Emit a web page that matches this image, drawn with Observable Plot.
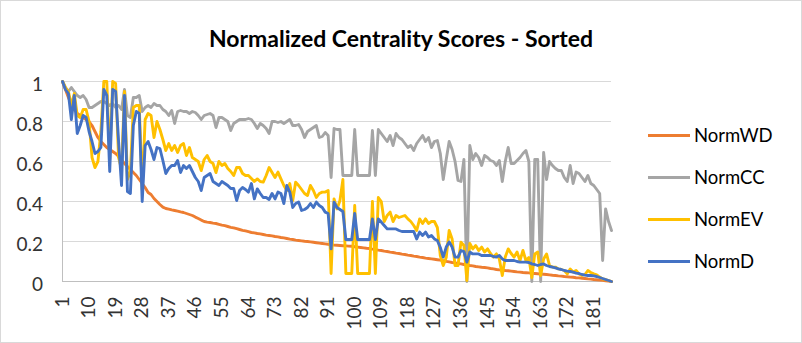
<!DOCTYPE html>
<html><head><meta charset="utf-8">
<script src="https://cdn.jsdelivr.net/npm/d3@7"></script>
<script src="https://cdn.jsdelivr.net/npm/@observablehq/plot@0.6"></script>
<style>
body{margin:0;background:#fff;}
#chart{position:relative;width:802px;height:343px;background:#fff;font-family:Lato,"Open Sans",sans-serif;overflow:hidden;}
#border{position:absolute;left:0;top:0;width:802px;height:343px;box-sizing:border-box;border:1px solid #d9d9d9;pointer-events:none;}
#title{position:absolute;left:0;width:802px;top:25px;text-align:center;font-weight:bold;font-size:23px;line-height:26px;color:#000;}
#legend{position:absolute;left:648px;top:0;}
.item{position:absolute;left:0;height:24px;display:flex;align-items:center;white-space:nowrap;font-size:18.5px;color:#000;}
.sw{width:42px;height:3px;margin-right:4px;}
#chart svg{position:absolute;left:0;top:0;}
</style></head><body>
<div id="chart"><div id="title">Normalized Centrality Scores - Sorted</div><div id="legend"></div><div id="border"></div></div>
<script>
const categories = d3.range(1, 188);
const xTicks = [1, 10, 19, 28, 37, 46, 55, 64, 73, 82, 91, 100, 109, 118, 127, 136, 145, 154, 163, 172, 181];
const yTicks = [0, 0.2, 0.4, 0.6, 0.8, 1];
const seriesNames = ["NormWD", "NormCC", "NormEV", "NormD"];
const seriesColors = ["#ED7D31", "#A5A5A5", "#FFC000", "#4472C4"];

const normWD = [
  1.00, 0.96, 0.92, 0.89, 0.86, 0.84, 0.83, 0.82, 0.81, 0.80,
  0.78, 0.75, 0.72, 0.70, 0.685, 0.67, 0.66, 0.65, 0.64, 0.625,
  0.61, 0.59, 0.575, 0.56, 0.545, 0.53, 0.51, 0.49, 0.47, 0.445,
  0.435, 0.415, 0.40, 0.385, 0.372, 0.365, 0.362, 0.358, 0.355, 0.352,
  0.348, 0.345, 0.34, 0.335, 0.33, 0.322, 0.315, 0.307, 0.30, 0.297,
  0.295, 0.292, 0.29, 0.286, 0.282, 0.279, 0.275, 0.271, 0.268, 0.264,
  0.26, 0.256, 0.253, 0.249, 0.245, 0.243, 0.24, 0.238, 0.235, 0.232,
  0.23, 0.228, 0.225, 0.223, 0.22, 0.218, 0.215, 0.212, 0.21, 0.207,
  0.205, 0.203, 0.201, 0.2, 0.198, 0.196, 0.194, 0.192, 0.19, 0.188,
  0.186, 0.184, 0.182, 0.181, 0.18, 0.179, 0.178, 0.177, 0.176, 0.174,
  0.172, 0.17, 0.168, 0.166, 0.165, 0.162, 0.16, 0.157, 0.155, 0.152,
  0.15, 0.147, 0.145, 0.142, 0.14, 0.137, 0.135, 0.132, 0.13, 0.127,
  0.125, 0.122, 0.12, 0.117, 0.115, 0.113, 0.111, 0.109, 0.107, 0.104,
  0.101, 0.098, 0.095, 0.093, 0.09, 0.088, 0.085, 0.083, 0.08, 0.078,
  0.075, 0.073, 0.071, 0.07, 0.068, 0.065, 0.063, 0.06, 0.058, 0.057,
  0.055, 0.054, 0.052, 0.05, 0.048, 0.047, 0.045, 0.044, 0.043, 0.041,
  0.04, 0.039, 0.037, 0.036, 0.035, 0.033, 0.031, 0.03, 0.028, 0.027,
  0.025, 0.024, 0.022, 0.021, 0.019, 0.018, 0.016, 0.015, 0.013, 0.012,
  0.01, 0.009, 0.007, 0.006, 0.004, 0.002, 0
];
const normCC = [
  1.0, 0.97, 0.95, 0.97, 0.95, 0.93, 0.92, 0.93, 0.91, 0.87,
  0.87, 0.88, 0.89, 0.90, 0.90, 0.89, 0.88, 0.89, 0.87, 0.88,
  0.86, 0.96, 0.83, 0.82, 0.92, 0.92, 0.93, 0.85, 0.87, 0.88,
  0.87, 0.89, 0.88, 0.88, 0.86, 0.85, 0.83, 0.855, 0.79, 0.85,
  0.855, 0.85, 0.85, 0.84, 0.85, 0.845, 0.83, 0.81, 0.83, 0.835,
  0.84, 0.83, 0.77, 0.82, 0.82, 0.81, 0.80, 0.755, 0.79, 0.80,
  0.81, 0.81, 0.81, 0.815, 0.81, 0.79, 0.765, 0.79, 0.78, 0.765,
  0.74, 0.80, 0.80, 0.795, 0.80, 0.79, 0.80, 0.81, 0.78, 0.78,
  0.785, 0.76, 0.72, 0.75, 0.76, 0.77, 0.78, 0.72, 0.725, 0.745,
  0.73, 0.52, 0.765, 0.76, 0.76, 0.53, 0.53, 0.53, 0.53, 0.76,
  0.53, 0.53, 0.53, 0.53, 0.53, 0.755, 0.53, 0.76, 0.74, 0.72,
  0.70, 0.73, 0.68, 0.74, 0.72, 0.71, 0.69, 0.67, 0.68, 0.655,
  0.69, 0.71, 0.73, 0.70, 0.72, 0.67, 0.70, 0.705, 0.64, 0.51,
  0.61, 0.70, 0.66, 0.60, 0.505, 0.50, 0.61, 0.0, 0.68, 0.61,
  0.64, 0.62, 0.58, 0.63, 0.62, 0.605, 0.60, 0.58, 0.605, 0.50,
  0.60, 0.67, 0.59, 0.59, 0.605, 0.62, 0.64, 0.655, 0.60, 0.0,
  0.61, 0.61, 0.0, 0.645, 0.51, 0.60, 0.58, 0.565, 0.555, 0.555,
  0.52, 0.50, 0.58, 0.49, 0.547, 0.54, 0.52, 0.50, 0.53, 0.49,
  0.48, 0.46, 0.44, 0.105, 0.363, 0.30, 0.255
];
const normEV = [
  1.0, 0.97, 0.95, 0.88, 0.94, 0.83, 0.82, 0.86, 0.86, 0.80,
  0.62, 0.57, 0.60, 0.75, 1.0, 1.0, 0.61, 1.0, 0.99, 0.62,
  0.56, 0.95, 0.51, 0.55, 0.87, 0.88, 0.88, 0.46, 0.81, 0.84,
  0.83, 0.72, 0.80, 0.76, 0.71, 0.655, 0.69, 0.655, 0.68, 0.645,
  0.68, 0.69, 0.63, 0.67, 0.62, 0.61, 0.60, 0.555, 0.61, 0.63,
  0.60, 0.59, 0.545, 0.60, 0.58, 0.59, 0.565, 0.55, 0.53, 0.57,
  0.57, 0.54, 0.53, 0.53, 0.515, 0.50, 0.513, 0.50, 0.497, 0.53,
  0.57, 0.545, 0.52, 0.547, 0.513, 0.48, 0.455, 0.49, 0.405, 0.497,
  0.48, 0.46, 0.44, 0.43, 0.48, 0.455, 0.42, 0.44, 0.447, 0.447,
  0.455, 0.04, 0.413, 0.363, 0.405, 0.51, 0.04, 0.04, 0.04, 0.38,
  0.04, 0.04, 0.04, 0.04, 0.04, 0.40, 0.04, 0.42, 0.40, 0.30,
  0.33, 0.347, 0.30, 0.33, 0.32, 0.325, 0.33, 0.313, 0.30, 0.28,
  0.255, 0.313, 0.29, 0.313, 0.29, 0.30, 0.30, 0.27, 0.13, 0.08,
  0.12, 0.255, 0.213, 0.08, 0.08, 0.197, 0.18, 0.005, 0.19, 0.163,
  0.18, 0.155, 0.172, 0.147, 0.163, 0.14, 0.122, 0.138, 0.113, 0.03,
  0.122, 0.163, 0.14, 0.122, 0.147, 0.105, 0.155, 0.105, 0.12, 0.02,
  0.138, 0.147, 0.03, 0.113, 0.138, 0.08, 0.072, 0.072, 0.063, 0.06,
  0.055, 0.038, 0.063, 0.047, 0.055, 0.038, 0.03, 0.035, 0.055, 0.045,
  0.038, 0.033, 0.022, 0.013, 0.01, 0.005, 0
];
const normD = [
  1.0, 0.96, 0.94, 0.81, 0.93, 0.74, 0.78, 0.83, 0.82, 0.75,
  0.70, 0.64, 0.65, 0.67, 0.96, 0.93, 0.55, 0.96, 0.95, 0.70,
  0.48, 0.93, 0.45, 0.44, 0.78, 0.85, 0.84, 0.40, 0.68, 0.70,
  0.66, 0.61, 0.67, 0.665, 0.605, 0.54, 0.565, 0.58, 0.58, 0.605,
  0.545, 0.58, 0.565, 0.58, 0.55, 0.52, 0.50, 0.455, 0.52, 0.53,
  0.54, 0.50, 0.49, 0.48, 0.50, 0.49, 0.48, 0.465, 0.465, 0.405,
  0.455, 0.47, 0.46, 0.447, 0.49, 0.413, 0.463, 0.44, 0.42, 0.42,
  0.41, 0.44, 0.413, 0.447, 0.44, 0.39, 0.48, 0.447, 0.37, 0.39,
  0.397, 0.355, 0.36, 0.37, 0.39, 0.37, 0.397, 0.38, 0.37, 0.347,
  0.34, 0.163, 0.397, 0.37, 0.36, 0.35, 0.21, 0.21, 0.21, 0.34,
  0.21, 0.21, 0.21, 0.21, 0.21, 0.313, 0.21, 0.313, 0.297, 0.28,
  0.263, 0.263, 0.263, 0.263, 0.255, 0.25, 0.25, 0.25, 0.25, 0.25,
  0.213, 0.247, 0.23, 0.247, 0.222, 0.23, 0.213, 0.205, 0.17, 0.122,
  0.172, 0.197, 0.172, 0.122, 0.122, 0.155, 0.15, 0.097, 0.147, 0.138,
  0.138, 0.138, 0.13, 0.13, 0.13, 0.13, 0.125, 0.122, 0.13, 0.113,
  0.105, 0.105, 0.105, 0.105, 0.10, 0.097, 0.097, 0.097, 0.095, 0.088,
  0.085, 0.08, 0.085, 0.088, 0.08, 0.075, 0.072, 0.068, 0.063, 0.06,
  0.055, 0.052, 0.05, 0.047, 0.042, 0.04, 0.035, 0.032, 0.03, 0.03,
  0.028, 0.025, 0.02, 0.015, 0.01, 0.005, 0
];
const seriesValues = [normWD, normCC, normEV, normD];

const data = seriesNames.flatMap((s, k) =>
  seriesValues[k].map((v, i) => ({series: s, cat: categories[i], value: v})));

const plot = Plot.plot({
  width: 802, height: 343,
  marginLeft: 62, marginRight: 191, marginTop: 81, marginBottom: 62,
  style: {fontFamily: "Lato, 'Open Sans', sans-serif", fontSize: "19px", color: "#333", background: "transparent", overflow: "visible"},
  x: {type: "point", domain: categories, padding: 0, label: null},
  y: {domain: [0, 1], label: null},
  color: {domain: seriesNames, range: seriesColors},
  marks: [
    Plot.gridY(yTicks, {stroke: "#d9d9d9", strokeOpacity: 1, strokeWidth: 1}),
    Plot.ruleY([0], {stroke: "#bfbfbf", strokeWidth: 1}),
    Plot.ruleX([categories[0]], {stroke: "#bfbfbf", strokeWidth: 1}),
    Plot.axisY(yTicks, {tickSize: 0, tickPadding: 19.5, dy: 3, tickFormat: d => String(d), label: null}),
    Plot.axisX(xTicks, {tickSize: 0, tickPadding: 15, tickRotate: -90, label: null}),
    Plot.lineY(data, {x: "cat", y: "value", stroke: "series", strokeWidth: 2.9, strokeLinejoin: "round", strokeLinecap: "round"})
  ]
});
const chart = document.getElementById("chart");
chart.insertBefore(plot, chart.firstChild);

const legend = document.getElementById("legend");
const legendY = [135, 177, 219, 261];
seriesNames.forEach((s, k) => {
  const item = document.createElement("div");
  item.className = "item";
  item.style.top = (legendY[k] - 12) + "px";
  const sw = document.createElement("span");
  sw.className = "sw";
  sw.style.background = seriesColors[k];
  const t = document.createElement("span");
  t.textContent = s;
  item.appendChild(sw); item.appendChild(t);
  legend.appendChild(item);
});
</script>
</body></html>
